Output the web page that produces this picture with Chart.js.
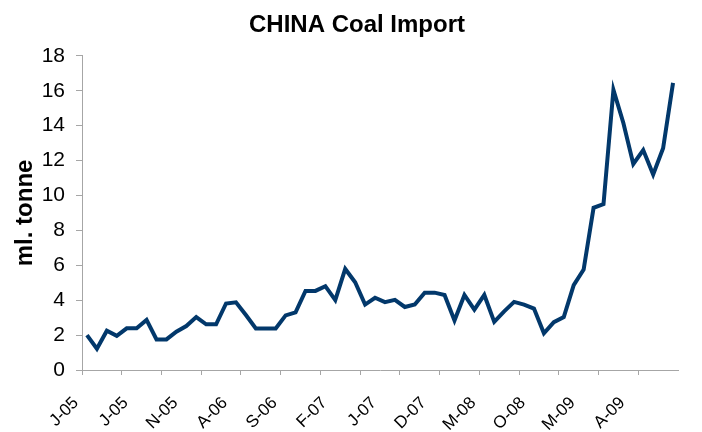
<!DOCTYPE html>
<html>
<head>
<meta charset="utf-8">
<script src="https://cdn.jsdelivr.net/npm/chart.js@4"></script>
<style>
  html, body { margin: 0; padding: 0; background: #fff; }
  #wrap { width: 702px; height: 432px; }
</style>
</head>
<body>
<div id="wrap"><canvas id="myChart" width="702" height="432"></canvas></div>
<script>
// months Jan 2005 .. Dec 2009
const months = [
  'J-05','F-05','M-05','A-05','M-05','J-05','J-05','A-05','S-05','O-05','N-05','D-05',
  'J-06','F-06','M-06','A-06','M-06','J-06','J-06','A-06','S-06','O-06','N-06','D-06',
  'J-07','F-07','M-07','A-07','M-07','J-07','J-07','A-07','S-07','O-07','N-07','D-07',
  'J-08','F-08','M-08','A-08','M-08','J-08','J-08','A-08','S-08','O-08','N-08','D-08',
  'J-09','F-09','M-09','A-09','M-09','J-09','J-09','A-09','S-09','O-09','N-09','D-09'
];

// ml. tonne
const coalImport = [
  2.0, 1.22, 2.25, 1.96, 2.39, 2.39, 2.87, 1.75, 1.75, 2.19, 2.52, 3.03,
  2.62, 2.62, 3.81, 3.88, 3.15, 2.38, 2.38, 2.38, 3.13, 3.3, 4.53, 4.53,
  4.8, 4.0, 5.79, 5.03, 3.75, 4.14, 3.89, 4.02, 3.61, 3.75, 4.43, 4.43,
  4.3, 2.84, 4.3, 3.46, 4.3, 2.76, 3.36, 3.9, 3.75, 3.52, 2.1, 2.74,
  3.03, 4.86, 5.75, 9.29, 9.5, 16.05, 14.15, 11.8, 12.6, 11.2, 12.7, 16.45
];

const labelEvery = 5;   // category labels
const tickEvery = 4;    // tick marks on x axis
const axisGray = '#a6a6a6';

const ctx = document.getElementById('myChart').getContext('2d');

new Chart(ctx, {
  type: 'line',
  data: {
    labels: months,
    datasets: [{
      label: 'Coal import',
      data: coalImport,
      borderColor: '#02386b',
      borderWidth: 4,
      pointRadius: 0,
      tension: 0,
      fill: false
    }]
  },
  options: {
    responsive: false,
    animation: false,
    // left padding only to push the title centre right, y axis box is narrowed to match
    layout: { padding: { left: 36, right: 24, top: 0, bottom: 0 } },
    plugins: {
      legend: { display: false },
      tooltip: { enabled: false },
      title: {
        display: true,
        text: 'CHINA Coal Import',
        color: '#000',
        font: { family: 'Liberation Sans, Arial', size: 24, weight: 'bold' },
        padding: { top: 11, bottom: 16 }
      }
    },
    scales: {
      x: {
        offset: true,
        grid: {
          offset: true,
          drawOnChartArea: false,
          tickLength: 5,
          color: c => (c.index % tickEvery === 0 ? axisGray : 'rgba(0,0,0,0)')
        },
        border: { display: true, color: axisGray, width: 1 },
        ticks: {
          autoSkip: false,
          minRotation: 45,
          maxRotation: 45,
          padding: 18,
          labelOffset: -11,
          color: '#000',
          font: { family: 'Liberation Sans, Arial', size: 17 },
          callback: (v, i) => (i % labelEvery === 0 ? months[i] : '')
        },
        afterFit: s => {
          s.height = 62;
          s.paddingLeft = 0;
          s.paddingRight = 0;
        }
      },
      y: {
        min: 0,
        max: 18,
        grid: {
          drawOnChartArea: false,
          tickLength: 6,
          color: axisGray
        },
        border: { display: true, color: axisGray, width: 1 },
        ticks: {
          stepSize: 2,
          padding: 11,
          color: '#000',
          font: { family: 'Liberation Sans, Arial', size: 21 }
        },
        title: {
          display: true,
          text: 'ml. tonne',
          color: '#000',
          font: { family: 'Liberation Sans, Arial', size: 24, weight: 'bold' },
          padding: { top: -25, bottom: 0 }
        },
        afterFit: s => { s.width = 46; }
      }
    }
  }
});
</script>
</body>
</html>
